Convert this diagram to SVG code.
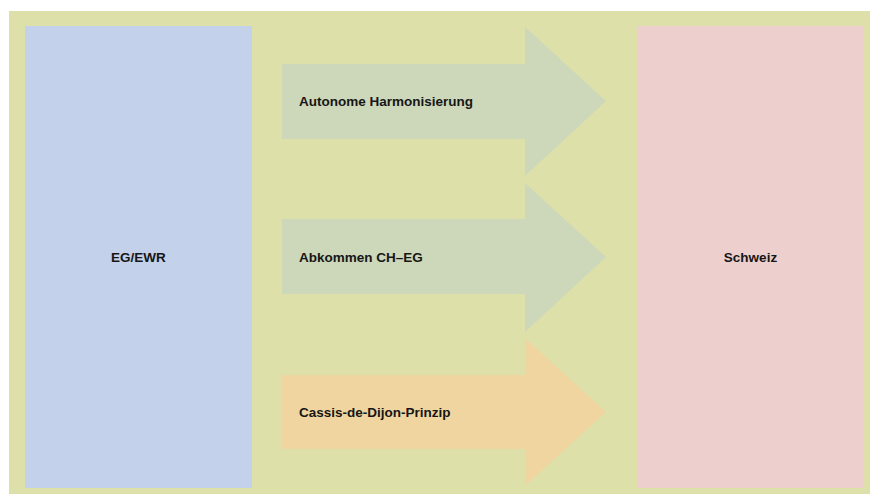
<svg xmlns="http://www.w3.org/2000/svg" width="870" height="494" viewBox="0 0 870 494">
  <style>
    .lbl { font-family: "Liberation Sans", Arial, sans-serif; font-weight: bold; font-size: 13.5px; fill: #161616; }
    .mid { text-anchor: middle; }
    .green { fill: #CDD7B9; }
    .orange { fill: #F0D5A0; }
  </style>
  <rect x="0" y="0" width="870" height="494" fill="#FFFFFF"/>
  <rect id="background" x="9" y="11" width="861" height="483" fill="#DEE0AA"/>
  <g id="eg-ewr">
    <rect x="25" y="26" width="227" height="462" fill="#C4D1EA"/>
    <text class="lbl mid" x="138.5" y="262">EG/EWR</text>
  </g>
  <g id="schweiz">
    <rect x="637" y="26" width="227" height="462" fill="#EDCFCD"/>
    <text class="lbl mid" x="750.5" y="262">Schweiz</text>
  </g>
  <g id="connectors">
    <g id="arrow-autonome">
      <polygon class="green" points="282,64 525,64 525,27 606,101 525,176 525,139 282,139"/>
      <text class="lbl" x="299" y="106">Autonome Harmonisierung</text>
    </g>
    <g id="arrow-abkommen">
      <polygon class="green" points="282,219 525,219 525,183 606,257 525,332 525,294 282,294"/>
      <text class="lbl" x="299" y="262">Abkommen CH–EG</text>
    </g>
    <g id="arrow-cassis">
      <polygon class="orange" points="282,375 525,375 525,338 606,412 525,486 525,449 282,449"/>
      <text class="lbl" x="299" y="417">Cassis-de-Dijon-Prinzip</text>
    </g>
  </g>
</svg>
